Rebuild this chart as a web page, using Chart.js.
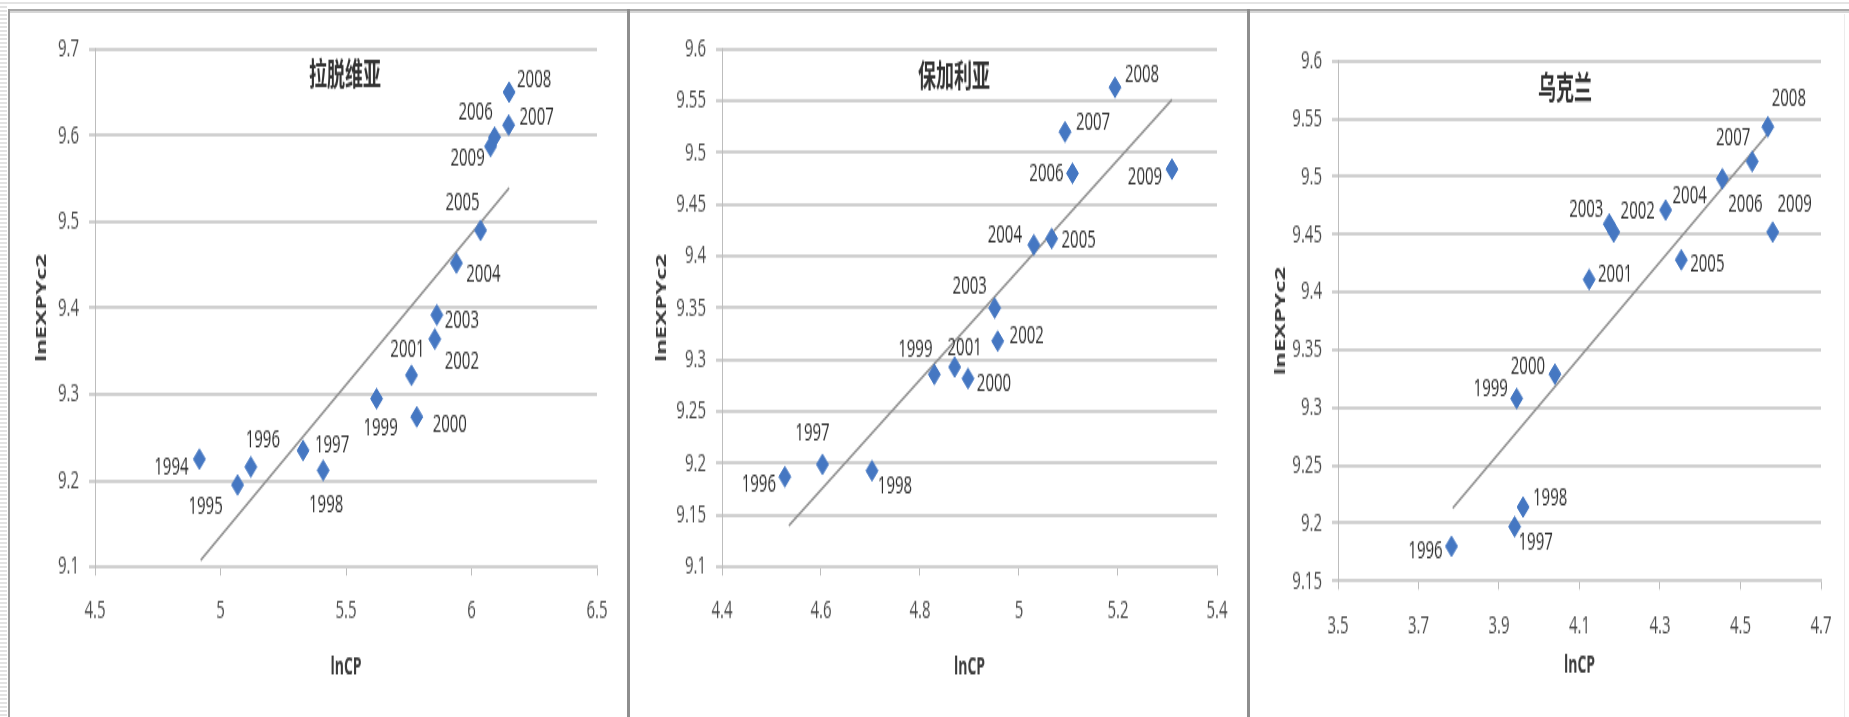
<!DOCTYPE html>
<html>
<head>
<meta charset="utf-8">
<script src="https://cdn.jsdelivr.net/npm/chart.js@4/dist/chart.umd.min.js"></script>
<style>
html,body{margin:0;padding:0;background:#fff;overflow:hidden}
#page{position:relative;width:1849px;height:717px;overflow:hidden;background:#fff}
#stretch{position:absolute;left:0;top:0;width:1849px;height:420px;transform:scaleY(1.707143);transform-origin:0 0;filter:blur(0.45px)}
#stretch canvas{position:absolute;top:0}
.ln{position:absolute}
</style>
</head>
<body>
<div id="page">
  <div id="stretch">
    <canvas id="c1" width="617" height="420" style="left:10px;width:617px;height:420px"></canvas>
    <canvas id="c2" width="617" height="420" style="left:630px;width:617px;height:420px"></canvas>
    <canvas id="c3" width="598" height="420" style="left:1251px;width:598px;height:420px"></canvas>
  </div>
  <div class="ln" style="left:0;top:0;width:7px;height:717px;background:repeating-linear-gradient(to bottom,#fff 0px,#fff 2px,#e3e3e3 2px,#e3e3e3 4px)"></div>
  <div class="ln" style="left:7px;top:2px;width:1842px;height:2px;background:#e4e4e4"></div>
  <div class="ln" style="left:8px;top:9px;width:1841px;height:2px;background:#a9a9a9"></div>
  <div class="ln" style="left:8px;top:11px;width:1841px;height:2px;background:#d6d6d6"></div>
  <div class="ln" style="left:8px;top:9px;width:2px;height:708px;background:#9c9c9c"></div>
  <div class="ln" style="left:627px;top:9px;width:3px;height:708px;background:#8e8e8e"></div>
  <div class="ln" style="left:1247px;top:9px;width:3px;height:708px;background:#8e8e8e"></div>
  <div class="ln" style="left:1844px;top:14px;width:1px;height:703px;background:#ececec"></div>
</div>
<script>
// ---------- data ----------
const years1 = ['1994','1995','1996','1997','1998','1999','2000','2001','2002','2003','2004','2005','2006','2007','2008','2009'];
const lnCP1 = [4.916, 5.068, 5.121, 5.329, 5.409, 5.622, 5.782, 5.761, 5.854, 5.862, 5.940, 6.036, 6.092, 6.148, 6.150, 6.076];
const lnEXPY1 = [9.225, 9.195, 9.216, 9.235, 9.212, 9.295, 9.274, 9.322, 9.364, 9.392, 9.452, 9.490, 9.598, 9.612, 9.650, 9.587];
const trendX1 = [4.921, 6.150];
const trendY1 = [9.108, 9.539];
const xTicks1 = [4.5, 5, 5.5, 6, 6.5];
const xTickLabels1 = ['4.5','5','5.5','6','6.5'];
const yTicks1 = [9.1, 9.2, 9.3, 9.4, 9.5, 9.6, 9.7];
const yTickLabels1 = ['9.1','9.2','9.3','9.4','9.5','9.6','9.7'];

const years2 = ['1996','1997','1998','1999','2000','2001','2002','2003','2004','2005','2006','2007','2008','2009'];
const lnCP2 = [4.527, 4.603, 4.703, 4.829, 4.897, 4.870, 4.957, 4.951, 5.030, 5.066, 5.108, 5.093, 5.194, 5.309];
const lnEXPY2 = [9.187, 9.199, 9.193, 9.286, 9.282, 9.293, 9.318, 9.350, 9.411, 9.417, 9.480, 9.520, 9.563, 9.484];
const trendX2 = [4.535, 5.309];
const trendY2 = [9.140, 9.551];
const xTicks2 = [4.4, 4.6, 4.8, 5, 5.2, 5.4];
const xTickLabels2 = ['4.4','4.6','4.8','5','5.2','5.4'];
const yTicks2 = [9.1, 9.15, 9.2, 9.25, 9.3, 9.35, 9.4, 9.45, 9.5, 9.55, 9.6];
const yTickLabels2 = ['9.1','9.15','9.2','9.25','9.3','9.35','9.4','9.45','9.5','9.55','9.6'];

const years3 = ['1996','1997','1998','1999','2000','2001','2002','2003','2004','2005','2006','2007','2008','2009'];
const lnCP3 = [3.782, 3.939, 3.960, 3.944, 4.039, 4.124, 4.185, 4.174, 4.314, 4.353, 4.455, 4.529, 4.568, 4.580];
const lnEXPY3 = [9.180, 9.197, 9.214, 9.308, 9.329, 9.411, 9.452, 9.459, 9.471, 9.428, 9.498, 9.513, 9.543, 9.452];
const trendX3 = [3.785, 4.568];
const trendY3 = [9.213, 9.537];
const xTicks3 = [3.5, 3.7, 3.9, 4.1, 4.3, 4.5, 4.7];
const xTickLabels3 = ['3.5','3.7','3.9','4.1','4.3','4.5','4.7'];
const yTicks3 = [9.15, 9.2, 9.25, 9.3, 9.35, 9.4, 9.45, 9.5, 9.55, 9.6];
const yTickLabels3 = ['9.15','9.2','9.25','9.3','9.35','9.4','9.45','9.5','9.55','9.6'];

const titles = ['拉脱维亚', '保加利亚', '乌克兰'];
const xTitle = 'lnCP';
const yTitle = 'lnEXPYc2';

// ---------- label placement (style, reference pixels relative to marker) ----------
const labelOffsets1 = [[-28,8],[-32,21],[12,-27],[29,-5],[3,35],[4,30],[33,7],[-4,-25],[27,23],[25,5],[27,11],[-18,-27],[-19,-24],[28,-7],[25,-12],[-23,12]];
const labelOffsets2 = [[-26,7],[-10,-31],[23,16],[-19,-24],[26,6],[10,-19],[29,-5],[-25,-21],[-29,-9],[27,1],[-26,0],[28,-10],[27,-12],[-27,8]];
const labelOffsets3 = [[-26,5],[21,16],[27,-9],[-26,-9],[-27,-8],[26,-5],[24,-20],[-23,-15],[24,-14],[26,4],[23,26],[-19,-23],[21,-29],[22,-27]];

// ---------- rendering ----------
const S = 717 / 420;
const FONT = '"Open Sans", "Liberation Sans", sans-serif';
const MARK = '#4577c2';

function zip(xs, ys) { return xs.map((x, i) => ({x: x, y: ys[i]})); }

function build(id, o) {
  const labelPlugin = {
    id: 'lbl' + id,
    afterDatasetsDraw(chart) {
      const ctx = chart.ctx;
      const meta = chart.getDatasetMeta(0);
      ctx.save();
      ctx.font = '15px ' + FONT;
      ctx.fillStyle = '#2e2e2e';
      ctx.textAlign = 'center';
      ctx.textBaseline = 'middle';
      meta.data.forEach((el, i) => {
        const off = o.offsets[i];
        ctx.fillText(o.years[i], el.x + off[0], el.y + off[1] / S);
      });
      ctx.font = 'bold 18px "Noto Sans CJK SC", sans-serif';
      ctx.fillStyle = '#333333';
      ctx.fillText(o.title, o.titlePos[0], o.titlePos[1]);
      ctx.restore();
    }
  };
  return new Chart(document.getElementById(id), {
    type: 'scatter',
    data: {
      datasets: [
        {
          data: zip(o.xs, o.ys), order: 1,
          pointStyle: 'rectRot', pointRadius: 6, pointBorderWidth: 1,
          backgroundColor: MARK, borderColor: MARK
        },
        {
          data: zip(o.tx, o.ty), order: 2, showLine: true,
          pointRadius: 0, borderColor: '#8e8e8e', borderWidth: 1.4, fill: false
        }
      ]
    },
    options: {
      responsive: false, animation: false, devicePixelRatio: 1,
      events: [],
      layout: {padding: {left: 0, right: o.R, top: o.T, bottom: 0}},
      plugins: {legend: {display: false}, tooltip: {enabled: false}},
      scales: {
        x: {
          type: 'linear', position: 'bottom', min: o.xt[0], max: o.xt[o.xt.length - 1],
          afterBuildTicks: s => { s.ticks = o.xt.map(v => ({value: v})); },
          afterFit: s => { s.height = o.Hx; },
          ticks: {callback: (v, i) => o.xl[i], font: {family: FONT, size: 15}, color: '#4a4a4a', padding: 12, maxRotation: 0, autoSkip: false},
          grid: {drawOnChartArea: false, drawTicks: true, tickLength: 5, color: '#bdbdbd', lineWidth: 1},
          border: {display: true, color: '#d0d0d0', width: 2},
          title: {display: true, text: xTitle, color: '#3a3a3a', font: {family: FONT, size: 14, weight: 'bold'}, padding: {top: 0, bottom: o.xtPad}}
        },
        y: {
          type: 'linear', position: 'left', min: o.yt[0], max: o.yt[o.yt.length - 1],
          afterBuildTicks: s => { s.ticks = o.yt.map(v => ({value: v})); },
          afterFit: s => { s.width = o.Wy; },
          ticks: {callback: (v, i) => o.yl[i], font: {family: FONT, size: 15}, color: '#4a4a4a', padding: 10, autoSkip: false},
          grid: {drawTicks: true, tickLength: 6, color: '#d0d0d0', lineWidth: 2},
          border: {display: true, color: '#bdbdbd', width: 1},
          title: {display: true, text: yTitle, color: '#3a3a3a', font: {family: FONT, size: 14, weight: 'bold'}, padding: {top: o.ytPad, bottom: 0}}
        }
      }
    },
    plugins: [labelPlugin]
  });
}

build('c1', {
  years: years1, xs: lnCP1, ys: lnEXPY1, tx: trendX1, ty: trendY1,
  xt: xTicks1, xl: xTickLabels1, yt: yTicks1, yl: yTickLabels1,
  offsets: labelOffsets1, title: titles[0], titlePos: [335, 74 / S],
  R: 30, T: 49 / S, Hx: 420 - 567 / S, Wy: 85, xtPad: 20.3, ytPad: 23.6
});
build('c2', {
  years: years2, xs: lnCP2, ys: lnEXPY2, tx: trendX2, ty: trendY2,
  xt: xTicks2, xl: xTickLabels2, yt: yTicks2, yl: yTickLabels2,
  offsets: labelOffsets2, title: titles[1], titlePos: [324, 75 / S],
  R: 30, T: 49 / S, Hx: 420 - 567 / S, Wy: 92, xtPad: 20.3, ytPad: 23.6
});
build('c3', {
  years: years3, xs: lnCP3, ys: lnEXPY3, tx: trendX3, ty: trendY3,
  xt: xTicks3, xl: xTickLabels3, yt: yTicks3, yl: yTickLabels3,
  offsets: labelOffsets3, title: titles[2], titlePos: [314, 87 / S],
  R: 28, T: 61 / S, Hx: 420 - 581 / S, Wy: 87, xtPad: 22, ytPad: 21.6
});
</script>
</body>
</html>
